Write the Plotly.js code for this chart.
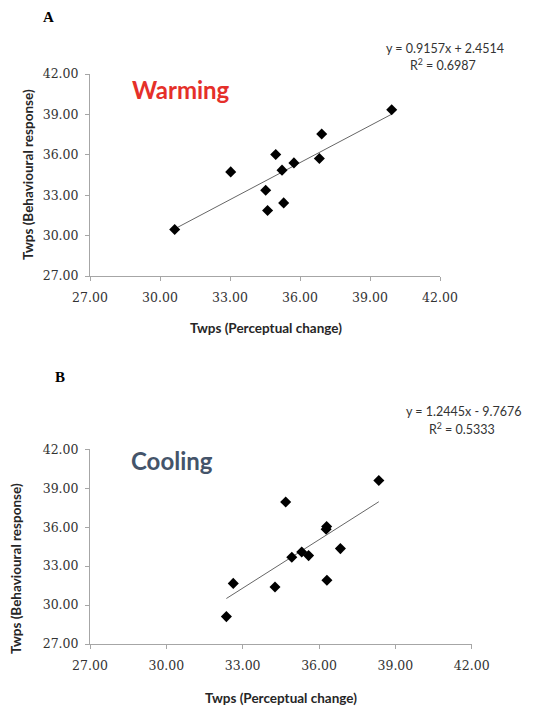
<!DOCTYPE html>
<html><head><meta charset="utf-8">
<script src="https://cdn.plot.ly/plotly-3.0.1.min.js"></script>
<style>html,body{margin:0;padding:0;background:#fff}#chart{width:547px;height:707px}</style>
</head><body><div id="chart"></div>
<script>
// Warming panel (A)
const warmX = [30.63, 33.03, 34.53, 34.61, 34.96, 35.23, 35.30, 35.74, 36.83, 36.93, 39.93];
const warmY = [30.45, 34.73, 33.37, 31.86, 36.02, 34.86, 32.43, 35.40, 35.73, 37.54, 39.35];
const warmSlope = 0.9157, warmIntercept = 2.4514, warmR2 = "0.6987";
// Cooling panel (B)
const coolX = [32.36, 32.63, 34.27, 34.69, 34.93, 35.32, 35.59, 36.28, 36.30, 36.31, 36.84, 38.35];
const coolY = [29.11, 31.67, 31.39, 37.94, 33.68, 34.09, 33.81, 35.85, 36.05, 31.91, 34.35, 39.59];
const coolSlope = 1.2445, coolIntercept = -9.7676, coolR2 = "0.5333";
const tickValues = [27, 30, 33, 36, 39, 42];
const tickLabels = ["27.00", "30.00", "33.00", "36.00", "39.00", "42.00"];

function trend(xs, m, b) {
  const x0 = Math.min(...xs), x1 = Math.max(...xs);
  return {x: [x0, x1], y: [m * x0 + b, m * x1 + b]};
}
const tw = trend(warmX, warmSlope, warmIntercept);
const tc = trend(coolX, coolSlope, coolIntercept);

const mk = {symbol: 'diamond', size: 8.5, color: '#000'};
const data = [
  {x: tw.x, y: tw.y, mode: 'lines', line: {color: '#666', width: 1}, xaxis: 'x', yaxis: 'y', hoverinfo: 'skip'},
  {x: warmX, y: warmY, mode: 'markers', marker: mk, xaxis: 'x', yaxis: 'y'},
  {x: tc.x, y: tc.y, mode: 'lines', line: {color: '#666', width: 1}, xaxis: 'x2', yaxis: 'y2', hoverinfo: 'skip'},
  {x: coolX, y: coolY, mode: 'markers', marker: mk, xaxis: 'x2', yaxis: 'y2'}
];

const W = 547, H = 707;
const tickFont = {family: 'DejaVu Serif', size: 12.5, color: '#333'};
function ax(extra) {
  return Object.assign({
    range: [27, 42], tickmode: 'array', tickvals: tickValues, ticktext: tickLabels,
    showgrid: false, zeroline: false, showline: true, linecolor: '#a6a6a6', linewidth: 1,
    ticks: 'outside', ticklen: 4, tickcolor: '#a6a6a6', tickfont: tickFont, fixedrange: true
  }, extra);
}
const layout = {
  width: W, height: H, margin: {l: 0, r: 0, t: 0, b: 0},
  paper_bgcolor: '#fff', plot_bgcolor: '#fff', showlegend: false,
  xaxis: ax({domain: [90 / W, 440 / W], anchor: 'y', ticklabelstandoff: 6}),
  yaxis: ax({domain: [(H - 276) / H, (H - 74) / H], anchor: 'x', ticklabelstandoff: 4}),
  xaxis2: ax({domain: [90 / W, 471.7 / W], anchor: 'y2', ticklabelstandoff: 6}),
  yaxis2: ax({domain: [(H - 644) / H, (H - 449.3) / H], anchor: 'x2', ticklabelstandoff: 4}),
  annotations: []
};
const ttlFont = {family: 'Lato', size: 13.5, color: '#262626', weight: 'bold'};
function ann(text, x, y, font, extra) {
  layout.annotations.push(Object.assign({
    text: text, x: x / W, y: 1 - y / H, xref: 'paper', yref: 'paper',
    xanchor: 'center', yanchor: 'middle', showarrow: false, font: font
  }, extra || {}));
}
const panelFont = {family: 'Liberation Serif', size: 15, color: '#000', weight: 'bold'};
const eqFont = {family: 'Lato', size: 12.5, color: '#333'};
ann('A', 48, 17, panelFont);
ann('B', 60, 377, panelFont);
ann('Warming', 181, 89, {family: 'Lato', size: 24, color: '#e5302a', weight: 'bold'});
ann('Cooling', 172, 460, {family: 'Lato', size: 24, color: '#44546a', weight: 'bold'});
ann('y = ' + warmSlope.toFixed(4) + 'x + ' + warmIntercept.toFixed(4), 445, 48, eqFont);
ann('R<sup>2</sup> = ' + warmR2, 443, 64, eqFont);
ann('y = ' + coolSlope.toFixed(4) + 'x - ' + Math.abs(coolIntercept).toFixed(4), 463, 411, eqFont);
ann('R<sup>2</sup> = ' + coolR2, 462, 428, eqFont);
ann('Twps (Perceptual change)', 266, 328, ttlFont);
ann('Twps (Behavioural response)', 28, 175, ttlFont, {textangle: -90});
ann('Twps (Perceptual change)', 281, 698, ttlFont);
ann('Twps (Behavioural response)', 16, 569, ttlFont, {textangle: -90});

Plotly.newPlot('chart', data, layout, {displayModeBar: false, staticPlot: true});
</script></body></html>
